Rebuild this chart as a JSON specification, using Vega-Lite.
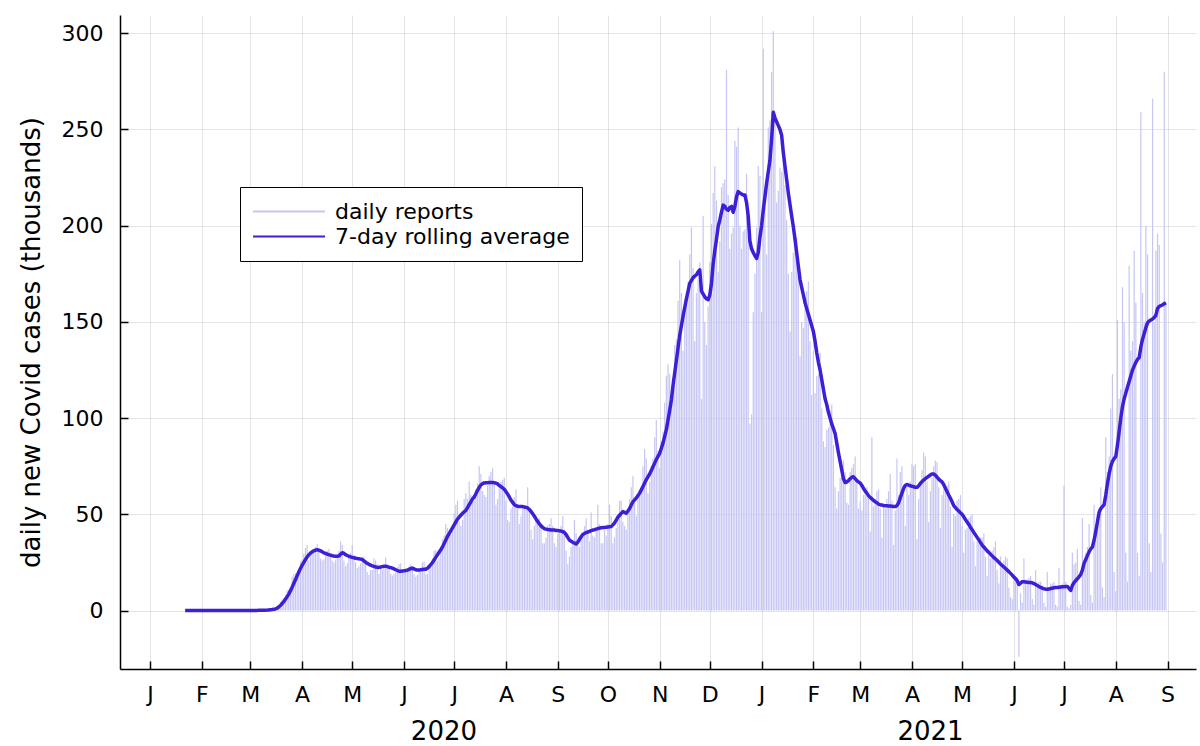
{
  "$schema": "https://vega.github.io/schema/vega-lite/v6.json",
  "width": 1076,
  "height": 654,
  "autosize": {"type": "none"},
  "padding": {"left": 120, "top": 15, "right": 4, "bottom": 77},
  "background": "white",
  "config": {
    "font": "DejaVu Sans",
    "view": {"stroke": null},
    "axis": {
      "labelFont": "DejaVu Sans",
      "labelFontSize": 22,
      "labelColor": "black",
      "titleFont": "DejaVu Sans",
      "titleFontSize": 26,
      "titleFontWeight": "normal",
      "titleColor": "black",
      "domainColor": "black",
      "domainWidth": 1.5,
      "tickColor": "black",
      "tickWidth": 1.5,
      "tickSize": -8,
      "gridColor": "#000000",
      "gridOpacity": 0.1,
      "gridWidth": 1
    },
    "legend": {
      "labelFont": "DejaVu Sans",
      "labelFontSize": 22,
      "labelColor": "black",
      "labelLimit": 500
    }
  },
  "data": {
    "values": [
      {"d":"2020-01-22","c":0,"a":0},{"d":"2020-01-23","c":0,"a":0},{"d":"2020-01-24","c":0,"a":0},{"d":"2020-01-25","c":0,"a":0},{"d":"2020-01-26","c":0,"a":0},
      {"d":"2020-01-27","c":0,"a":0},{"d":"2020-01-28","c":0,"a":0},{"d":"2020-01-29","c":0,"a":0},{"d":"2020-01-30","c":0,"a":0},{"d":"2020-01-31","c":0,"a":0},
      {"d":"2020-02-01","c":0,"a":0},{"d":"2020-02-02","c":0,"a":0},{"d":"2020-02-03","c":0,"a":0},{"d":"2020-02-04","c":0,"a":0},{"d":"2020-02-05","c":0,"a":0},
      {"d":"2020-02-06","c":0,"a":0},{"d":"2020-02-07","c":0,"a":0},{"d":"2020-02-08","c":0,"a":0},{"d":"2020-02-09","c":0,"a":0},{"d":"2020-02-10","c":0,"a":0},
      {"d":"2020-02-11","c":0,"a":0},{"d":"2020-02-12","c":0,"a":0},{"d":"2020-02-13","c":0,"a":0},{"d":"2020-02-14","c":0,"a":0},{"d":"2020-02-15","c":0,"a":0},
      {"d":"2020-02-16","c":0,"a":0},{"d":"2020-02-17","c":0,"a":0},{"d":"2020-02-18","c":0,"a":0},{"d":"2020-02-19","c":0,"a":0},{"d":"2020-02-20","c":0,"a":0},
      {"d":"2020-02-21","c":0,"a":0},{"d":"2020-02-22","c":0,"a":0},{"d":"2020-02-23","c":0,"a":0},{"d":"2020-02-24","c":0,"a":0},{"d":"2020-02-25","c":0,"a":0},
      {"d":"2020-02-26","c":0,"a":0},{"d":"2020-02-27","c":0,"a":0},{"d":"2020-02-28","c":0,"a":0},{"d":"2020-02-29","c":0,"a":0},
      {"d":"2020-03-01","c":0.02,"a":0.01},{"d":"2020-03-02","c":0.02,"a":0.02},{"d":"2020-03-03","c":0.03,"a":0.03},{"d":"2020-03-04","c":0.05,"a":0.04},
      {"d":"2020-03-05","c":0.07,"a":0.05},{"d":"2020-03-06","c":0.1,"a":0.07},{"d":"2020-03-07","c":0.12,"a":0.09},{"d":"2020-03-08","c":0.12,"a":0.1},
      {"d":"2020-03-09","c":0.17,"a":0.12},{"d":"2020-03-10","c":0.27,"a":0.15},{"d":"2020-03-11","c":0.4,"a":0.2},{"d":"2020-03-12","c":0.5,"a":0.3},
      {"d":"2020-03-13","c":0.6,"a":0.4},{"d":"2020-03-14","c":0.7,"a":0.5},{"d":"2020-03-15","c":0.8,"a":0.65},{"d":"2020-03-16","c":1.3,"a":0.8},
      {"d":"2020-03-17","c":2,"a":1.2},{"d":"2020-03-18","c":2.9,"a":1.8},{"d":"2020-03-19","c":4.5,"a":2.6},{"d":"2020-03-20","c":5.8,"a":3.5},
      {"d":"2020-03-21","c":6.4,"a":4.6},{"d":"2020-03-22","c":7.8,"a":5.8},{"d":"2020-03-23","c":10.5,"a":7.1},{"d":"2020-03-24","c":10.8,"a":8.5},
      {"d":"2020-03-25","c":12.5,"a":10.2},{"d":"2020-03-26","c":17.5,"a":12},{"d":"2020-03-27","c":18.8,"a":14},{"d":"2020-03-28","c":19.5,"a":16},
      {"d":"2020-03-29","c":18.9,"a":18},{"d":"2020-03-30","c":21.2,"a":20},{"d":"2020-03-31","c":25.5,"a":21.8},
      {"d":"2020-04-01","c":26.5,"a":23.5},{"d":"2020-04-02","c":29.5,"a":25},{"d":"2020-04-03","c":32.5,"a":26.5},{"d":"2020-04-04","c":34,"a":27.8},
      {"d":"2020-04-05","c":26,"a":29},{"d":"2020-04-06","c":29,"a":29.8},{"d":"2020-04-07","c":31,"a":30.5},{"d":"2020-04-08","c":31.5,"a":31},
      {"d":"2020-04-09","c":33,"a":31.4},{"d":"2020-04-10","c":34.5,"a":31.6},{"d":"2020-04-11","c":30.5,"a":31.4},{"d":"2020-04-12","c":27,"a":31},
      {"d":"2020-04-13","c":26,"a":30.5},{"d":"2020-04-14","c":26.5,"a":30},{"d":"2020-04-15","c":29,"a":29.7},{"d":"2020-04-16","c":31,"a":29.3},
      {"d":"2020-04-17","c":32,"a":29},{"d":"2020-04-18","c":29,"a":28.8},{"d":"2020-04-19","c":26,"a":28.5},{"d":"2020-04-20","c":25,"a":28.3},
      {"d":"2020-04-21","c":26.5,"a":28.2},{"d":"2020-04-22","c":28.5,"a":28.2},{"d":"2020-04-23","c":31,"a":28.3},{"d":"2020-04-24","c":36,"a":29.2},
      {"d":"2020-04-25","c":34,"a":30},{"d":"2020-04-26","c":26,"a":29.8},{"d":"2020-04-27","c":23,"a":29},{"d":"2020-04-28","c":24.5,"a":28.6},
      {"d":"2020-04-29","c":28,"a":28.2},{"d":"2020-04-30","c":30,"a":27.9},
      {"d":"2020-05-01","c":34,"a":27.6},{"d":"2020-05-02","c":29,"a":27.4},{"d":"2020-05-03","c":25,"a":27.2},{"d":"2020-05-04","c":22,"a":27},
      {"d":"2020-05-05","c":23,"a":26.9},{"d":"2020-05-06","c":24.5,"a":26.7},{"d":"2020-05-07","c":28,"a":26.5},{"d":"2020-05-08","c":28,"a":25.8},
      {"d":"2020-05-09","c":26,"a":25.1},{"d":"2020-05-10","c":20,"a":24.5},{"d":"2020-05-11","c":18.5,"a":24},{"d":"2020-05-12","c":21,"a":23.6},
      {"d":"2020-05-13","c":21,"a":23.2},{"d":"2020-05-14","c":27,"a":22.9},{"d":"2020-05-15","c":26,"a":22.6},{"d":"2020-05-16","c":24,"a":22.5},
      {"d":"2020-05-17","c":19,"a":22.4},{"d":"2020-05-18","c":22,"a":22.6},{"d":"2020-05-19","c":21,"a":22.8},{"d":"2020-05-20","c":22,"a":23},
      {"d":"2020-05-21","c":27.5,"a":23},{"d":"2020-05-22","c":24,"a":22.8},{"d":"2020-05-23","c":21.5,"a":22.5},{"d":"2020-05-24","c":19,"a":22.3},
      {"d":"2020-05-25","c":18,"a":22},{"d":"2020-05-26","c":19,"a":21.6},{"d":"2020-05-27","c":20,"a":21.2},{"d":"2020-05-28","c":22.5,"a":20.8},
      {"d":"2020-05-29","c":24,"a":20.4},{"d":"2020-05-30","c":24.5,"a":20.4},{"d":"2020-05-31","c":20,"a":20.5},
      {"d":"2020-06-01","c":20,"a":20.6},{"d":"2020-06-02","c":20,"a":20.8},{"d":"2020-06-03","c":21,"a":21},{"d":"2020-06-04","c":23,"a":21.4},
      {"d":"2020-06-05","c":24,"a":21.8},{"d":"2020-06-06","c":23,"a":22},{"d":"2020-06-07","c":19,"a":21.6},{"d":"2020-06-08","c":17.5,"a":21.2},
      {"d":"2020-06-09","c":18.5,"a":21},{"d":"2020-06-10","c":21,"a":21},{"d":"2020-06-11","c":21.5,"a":21.2},{"d":"2020-06-12","c":25,"a":21.3},
      {"d":"2020-06-13","c":25.5,"a":21.4},{"d":"2020-06-14","c":19,"a":21.5},{"d":"2020-06-15","c":19,"a":22},{"d":"2020-06-16","c":23,"a":22.8},
      {"d":"2020-06-17","c":24,"a":23.8},{"d":"2020-06-18","c":27,"a":25},{"d":"2020-06-19","c":31,"a":26.3},{"d":"2020-06-20","c":31.5,"a":27.6},
      {"d":"2020-06-21","c":26,"a":29},{"d":"2020-06-22","c":27,"a":30.3},{"d":"2020-06-23","c":33,"a":31.6},{"d":"2020-06-24","c":37,"a":33},
      {"d":"2020-06-25","c":39,"a":34.8},{"d":"2020-06-26","c":45,"a":36.6},{"d":"2020-06-27","c":43,"a":38.5},{"d":"2020-06-28","c":40,"a":40},
      {"d":"2020-06-29","c":39.5,"a":41.5},{"d":"2020-06-30","c":44,"a":43},
      {"d":"2020-07-01","c":50.5,"a":44.5},{"d":"2020-07-02","c":55,"a":46},{"d":"2020-07-03","c":57,"a":47.5},{"d":"2020-07-04","c":46,"a":48.5},
      {"d":"2020-07-05","c":44,"a":49.5},{"d":"2020-07-06","c":47,"a":50.5},{"d":"2020-07-07","c":58,"a":51.3},{"d":"2020-07-08","c":61,"a":52},
      {"d":"2020-07-09","c":58,"a":53.5},{"d":"2020-07-10","c":67,"a":55},{"d":"2020-07-11","c":60,"a":56.5},{"d":"2020-07-12","c":59,"a":58},
      {"d":"2020-07-13","c":57,"a":59},{"d":"2020-07-14","c":63,"a":60.7},{"d":"2020-07-15","c":66,"a":62.5},{"d":"2020-07-16","c":75,"a":64},
      {"d":"2020-07-17","c":71,"a":65.3},{"d":"2020-07-18","c":62,"a":65.9},{"d":"2020-07-19","c":60,"a":66.3},{"d":"2020-07-20","c":59,"a":66.4},
      {"d":"2020-07-21","c":65,"a":66.4},{"d":"2020-07-22","c":70,"a":66.5},{"d":"2020-07-23","c":72,"a":66.5},{"d":"2020-07-24","c":74,"a":66.5},
      {"d":"2020-07-25","c":66,"a":66.4},{"d":"2020-07-26","c":55,"a":66.2},{"d":"2020-07-27","c":58,"a":65.8},{"d":"2020-07-28","c":64,"a":65},
      {"d":"2020-07-29","c":67,"a":64.4},{"d":"2020-07-30","c":68,"a":63.7},{"d":"2020-07-31","c":69,"a":63},
      {"d":"2020-08-01","c":57,"a":61.8},{"d":"2020-08-02","c":47,"a":60.5},{"d":"2020-08-03","c":46,"a":59},{"d":"2020-08-04","c":53,"a":57.4},
      {"d":"2020-08-05","c":54,"a":56.2},{"d":"2020-08-06","c":59,"a":55},{"d":"2020-08-07","c":63,"a":54.5},{"d":"2020-08-08","c":55,"a":54.2},
      {"d":"2020-08-09","c":45,"a":54.1},{"d":"2020-08-10","c":49,"a":54},{"d":"2020-08-11","c":53,"a":54},{"d":"2020-08-12","c":54,"a":53.8},
      {"d":"2020-08-13","c":54,"a":53.6},{"d":"2020-08-14","c":64,"a":53.3},{"d":"2020-08-15","c":52,"a":52.5},{"d":"2020-08-16","c":42,"a":51.5},
      {"d":"2020-08-17","c":37,"a":50.3},{"d":"2020-08-18","c":44,"a":49},{"d":"2020-08-19","c":47,"a":47.6},{"d":"2020-08-20","c":45,"a":46.3},
      {"d":"2020-08-21","c":48,"a":45},{"d":"2020-08-22","c":45,"a":44},{"d":"2020-08-23","c":35,"a":43.2},{"d":"2020-08-24","c":35,"a":42.5},
      {"d":"2020-08-25","c":38,"a":42.3},{"d":"2020-08-26","c":44,"a":42.1},{"d":"2020-08-27","c":45,"a":42},{"d":"2020-08-28","c":48,"a":41.9},
      {"d":"2020-08-29","c":44,"a":41.8},{"d":"2020-08-30","c":35,"a":41.8},{"d":"2020-08-31","c":33,"a":41.6},
      {"d":"2020-09-01","c":40,"a":41.6},{"d":"2020-09-02","c":41,"a":41.4},{"d":"2020-09-03","c":44,"a":41.3},{"d":"2020-09-04","c":49,"a":41},
      {"d":"2020-09-05","c":42,"a":40.5},{"d":"2020-09-06","c":31,"a":39.5},{"d":"2020-09-07","c":24,"a":38},{"d":"2020-09-08","c":28,"a":36.6},
      {"d":"2020-09-09","c":33,"a":36},{"d":"2020-09-10","c":35,"a":35.5},{"d":"2020-09-11","c":47,"a":35},{"d":"2020-09-12","c":40,"a":34.6},
      {"d":"2020-09-13","c":34,"a":35.5},{"d":"2020-09-14","c":33,"a":37},{"d":"2020-09-15","c":39,"a":38.3},{"d":"2020-09-16","c":40,"a":39.5},
      {"d":"2020-09-17","c":44,"a":40},{"d":"2020-09-18","c":48,"a":40.5},{"d":"2020-09-19","c":42,"a":40.8},{"d":"2020-09-20","c":36,"a":41.1},
      {"d":"2020-09-21","c":51,"a":41.5},{"d":"2020-09-22","c":39,"a":41.8},{"d":"2020-09-23","c":38,"a":42},{"d":"2020-09-24","c":43,"a":42.3},
      {"d":"2020-09-25","c":55,"a":42.6},{"d":"2020-09-26","c":45,"a":42.8},{"d":"2020-09-27","c":35,"a":43},{"d":"2020-09-28","c":35,"a":43.1},
      {"d":"2020-09-29","c":42,"a":43.2},{"d":"2020-09-30","c":39,"a":43.3},
      {"d":"2020-10-01","c":45,"a":43.4},{"d":"2020-10-02","c":55,"a":43.5},{"d":"2020-10-03","c":49,"a":43.6},{"d":"2020-10-04","c":35,"a":44.5},
      {"d":"2020-10-05","c":38,"a":45.5},{"d":"2020-10-06","c":43,"a":47},{"d":"2020-10-07","c":50,"a":48.5},{"d":"2020-10-08","c":57,"a":49.5},
      {"d":"2020-10-09","c":57,"a":50.5},{"d":"2020-10-10","c":46,"a":51.4},{"d":"2020-10-11","c":44,"a":51},{"d":"2020-10-12","c":42,"a":50.5},
      {"d":"2020-10-13","c":51,"a":51.7},{"d":"2020-10-14","c":58,"a":53},{"d":"2020-10-15","c":64,"a":54.8},{"d":"2020-10-16","c":70,"a":56.5},
      {"d":"2020-10-17","c":56,"a":57.5},{"d":"2020-10-18","c":49,"a":58.5},{"d":"2020-10-19","c":59,"a":59.7},{"d":"2020-10-20","c":61,"a":61},
      {"d":"2020-10-21","c":63,"a":62.7},{"d":"2020-10-22","c":75,"a":64.5},{"d":"2020-10-23","c":84,"a":66.3},{"d":"2020-10-24","c":79,"a":68},
      {"d":"2020-10-25","c":61,"a":69.5},{"d":"2020-10-26","c":67,"a":71},{"d":"2020-10-27","c":75,"a":72.8},{"d":"2020-10-28","c":79,"a":74.7},
      {"d":"2020-10-29","c":90,"a":76.6},{"d":"2020-10-30","c":99,"a":78.5},{"d":"2020-10-31","c":83,"a":80.1},
      {"d":"2020-11-01","c":74,"a":81.7},{"d":"2020-11-02","c":88,"a":84.3},{"d":"2020-11-03","c":93,"a":87},{"d":"2020-11-04","c":108,"a":90.5},
      {"d":"2020-11-05","c":122,"a":94},{"d":"2020-11-06","c":128,"a":99},{"d":"2020-11-07","c":123,"a":104},{"d":"2020-11-08","c":105,"a":109.4},
      {"d":"2020-11-09","c":121,"a":117},{"d":"2020-11-10","c":138,"a":123.5},{"d":"2020-11-11","c":141,"a":130},{"d":"2020-11-12","c":161,"a":136.5},
      {"d":"2020-11-13","c":182,"a":143},{"d":"2020-11-14","c":165,"a":148},{"d":"2020-11-15","c":135,"a":153},{"d":"2020-11-16","c":158,"a":157.5},
      {"d":"2020-11-17","c":160,"a":162},{"d":"2020-11-18","c":171,"a":166},{"d":"2020-11-19","c":185,"a":170},{"d":"2020-11-20","c":199,"a":171.5},
      {"d":"2020-11-21","c":178,"a":173},{"d":"2020-11-22","c":140,"a":173.8},{"d":"2020-11-23","c":165,"a":174.5},{"d":"2020-11-24","c":172,"a":176},
      {"d":"2020-11-25","c":181,"a":177},{"d":"2020-11-26","c":110,"a":166},{"d":"2020-11-27","c":205,"a":164.5},{"d":"2020-11-28","c":150,"a":163},
      {"d":"2020-11-29","c":138,"a":162},{"d":"2020-11-30","c":158,"a":161.5},
      {"d":"2020-12-01","c":181,"a":164},{"d":"2020-12-02","c":201,"a":170},{"d":"2020-12-03","c":217,"a":180},{"d":"2020-12-04","c":231,"a":187},
      {"d":"2020-12-05","c":213,"a":193},{"d":"2020-12-06","c":176,"a":199.5},{"d":"2020-12-07","c":192,"a":203},{"d":"2020-12-08","c":220,"a":207},
      {"d":"2020-12-09","c":222,"a":210.7},{"d":"2020-12-10","c":224,"a":210},{"d":"2020-12-11","c":281,"a":208.5},{"d":"2020-12-12","c":216,"a":208},
      {"d":"2020-12-13","c":188,"a":209.5},{"d":"2020-12-14","c":196,"a":210},{"d":"2020-12-15","c":199,"a":207},{"d":"2020-12-16","c":244,"a":210},
      {"d":"2020-12-17","c":241,"a":215},{"d":"2020-12-18","c":251,"a":217.7},{"d":"2020-12-19","c":200,"a":217},{"d":"2020-12-20","c":188,"a":216.5},
      {"d":"2020-12-21","c":197,"a":216},{"d":"2020-12-22","c":198,"a":216},{"d":"2020-12-23","c":227,"a":212},{"d":"2020-12-24","c":195,"a":205},
      {"d":"2020-12-25","c":97,"a":192},{"d":"2020-12-26","c":102,"a":188},{"d":"2020-12-27","c":155,"a":186},{"d":"2020-12-28","c":175,"a":184.5},
      {"d":"2020-12-29","c":199,"a":183},{"d":"2020-12-30","c":231,"a":186},{"d":"2020-12-31","c":226,"a":194},
      {"d":"2021-01-01","c":155,"a":200},{"d":"2021-01-02","c":292,"a":208},{"d":"2021-01-03","c":210,"a":215},{"d":"2021-01-04","c":185,"a":222},
      {"d":"2021-01-05","c":251,"a":228},{"d":"2021-01-06","c":255,"a":234},{"d":"2021-01-07","c":280,"a":245},{"d":"2021-01-08","c":301,"a":259},
      {"d":"2021-01-09","c":258,"a":256},{"d":"2021-01-10","c":212,"a":254},{"d":"2021-01-11","c":218,"a":252},{"d":"2021-01-12","c":230,"a":250},
      {"d":"2021-01-13","c":228,"a":247},{"d":"2021-01-14","c":235,"a":238},{"d":"2021-01-15","c":221,"a":231},{"d":"2021-01-16","c":203,"a":224},
      {"d":"2021-01-17","c":175,"a":217},{"d":"2021-01-18","c":145,"a":211},{"d":"2021-01-19","c":176,"a":205},{"d":"2021-01-20","c":186,"a":199.5},
      {"d":"2021-01-21","c":192,"a":193},{"d":"2021-01-22","c":194,"a":186},{"d":"2021-01-23","c":174,"a":179},{"d":"2021-01-24","c":132,"a":172},
      {"d":"2021-01-25","c":150,"a":168},{"d":"2021-01-26","c":147,"a":164},{"d":"2021-01-27","c":157,"a":160},{"d":"2021-01-28","c":166,"a":157},
      {"d":"2021-01-29","c":171,"a":154},{"d":"2021-01-30","c":140,"a":151},{"d":"2021-01-31","c":112,"a":148},
      {"d":"2021-02-01","c":135,"a":145},{"d":"2021-02-02","c":113,"a":140},{"d":"2021-02-03","c":122,"a":134},{"d":"2021-02-04","c":123,"a":129},
      {"d":"2021-02-05","c":134,"a":125},{"d":"2021-02-06","c":105,"a":120},{"d":"2021-02-07","c":88,"a":115},{"d":"2021-02-08","c":85,"a":110},
      {"d":"2021-02-09","c":94,"a":107},{"d":"2021-02-10","c":95,"a":103},{"d":"2021-02-11","c":104,"a":100},{"d":"2021-02-12","c":107,"a":97},
      {"d":"2021-02-13","c":86,"a":94.5},{"d":"2021-02-14","c":64,"a":92},{"d":"2021-02-15","c":53,"a":87},{"d":"2021-02-16","c":62,"a":82},
      {"d":"2021-02-17","c":69,"a":77.5},{"d":"2021-02-18","c":71,"a":73},{"d":"2021-02-19","c":78,"a":68.5},{"d":"2021-02-20","c":72,"a":66.5},
      {"d":"2021-02-21","c":56,"a":66.8},{"d":"2021-02-22","c":55,"a":67.5},{"d":"2021-02-23","c":72,"a":68.5},{"d":"2021-02-24","c":74,"a":69.3},
      {"d":"2021-02-25","c":76,"a":69.5},{"d":"2021-02-26","c":80,"a":68.5},{"d":"2021-02-27","c":67,"a":67.5},{"d":"2021-02-28","c":53,"a":66.8},
      {"d":"2021-03-01","c":57,"a":66.3},{"d":"2021-03-02","c":52,"a":65},{"d":"2021-03-03","c":60,"a":63.5},{"d":"2021-03-04","c":62,"a":62},
      {"d":"2021-03-05","c":64,"a":61},{"d":"2021-03-06","c":60,"a":59.7},{"d":"2021-03-07","c":41,"a":58.8},{"d":"2021-03-08","c":90,"a":58},
      {"d":"2021-03-09","c":54,"a":57.2},{"d":"2021-03-10","c":58,"a":56.5},{"d":"2021-03-11","c":62,"a":56},{"d":"2021-03-12","c":63,"a":55.3},
      {"d":"2021-03-13","c":53,"a":55},{"d":"2021-03-14","c":38,"a":54.8},{"d":"2021-03-15","c":54,"a":54.6},{"d":"2021-03-16","c":53,"a":54.5},
      {"d":"2021-03-17","c":58,"a":54.4},{"d":"2021-03-18","c":62,"a":54.3},{"d":"2021-03-19","c":71,"a":54.3},{"d":"2021-03-20","c":57,"a":54.2},
      {"d":"2021-03-21","c":34,"a":54.1},{"d":"2021-03-22","c":52,"a":54},{"d":"2021-03-23","c":79,"a":54.5},{"d":"2021-03-24","c":60,"a":56},
      {"d":"2021-03-25","c":72,"a":58.5},{"d":"2021-03-26","c":75,"a":61},{"d":"2021-03-27","c":63,"a":63.5},{"d":"2021-03-28","c":44,"a":65},
      {"d":"2021-03-29","c":64,"a":65.5},{"d":"2021-03-30","c":60,"a":65.2},{"d":"2021-03-31","c":67,"a":64.8},
      {"d":"2021-04-01","c":76,"a":64.6},{"d":"2021-04-02","c":75,"a":64.3},{"d":"2021-04-03","c":76,"a":64.1},{"d":"2021-04-04","c":37,"a":64},
      {"d":"2021-04-05","c":58,"a":64.8},{"d":"2021-04-06","c":66,"a":66},{"d":"2021-04-07","c":73,"a":67},{"d":"2021-04-08","c":82,"a":67.8},
      {"d":"2021-04-09","c":80,"a":68.5},{"d":"2021-04-10","c":67,"a":69.2},{"d":"2021-04-11","c":46,"a":69.8},{"d":"2021-04-12","c":62,"a":70.4},
      {"d":"2021-04-13","c":69,"a":70.9},{"d":"2021-04-14","c":75,"a":71},{"d":"2021-04-15","c":78,"a":70.3},{"d":"2021-04-16","c":77,"a":69.3},
      {"d":"2021-04-17","c":64,"a":68.3},{"d":"2021-04-18","c":43,"a":67.5},{"d":"2021-04-19","c":60,"a":66.8},{"d":"2021-04-20","c":63,"a":65.5},
      {"d":"2021-04-21","c":63,"a":63.5},{"d":"2021-04-22","c":65,"a":61.8},{"d":"2021-04-23","c":67,"a":60},{"d":"2021-04-24","c":54,"a":58.3},
      {"d":"2021-04-25","c":33,"a":56.5},{"d":"2021-04-26","c":50,"a":54.5},{"d":"2021-04-27","c":49,"a":53.5},{"d":"2021-04-28","c":57,"a":52.5},
      {"d":"2021-04-29","c":58,"a":51.7},{"d":"2021-04-30","c":60,"a":50.8},
      {"d":"2021-05-01","c":44,"a":50},{"d":"2021-05-02","c":30,"a":48.7},{"d":"2021-05-03","c":42,"a":47.3},{"d":"2021-05-04","c":43,"a":46},
      {"d":"2021-05-05","c":48,"a":44.7},{"d":"2021-05-06","c":49,"a":43.3},{"d":"2021-05-07","c":50,"a":42},{"d":"2021-05-08","c":36,"a":40.6},
      {"d":"2021-05-09","c":23,"a":39.3},{"d":"2021-05-10","c":36,"a":38},{"d":"2021-05-11","c":35,"a":36.7},{"d":"2021-05-12","c":38,"a":35.3},
      {"d":"2021-05-13","c":38,"a":34},{"d":"2021-05-14","c":40,"a":33},{"d":"2021-05-15","c":28,"a":32},{"d":"2021-05-16","c":18,"a":31},
      {"d":"2021-05-17","c":30,"a":30.2},{"d":"2021-05-18","c":27,"a":29.3},{"d":"2021-05-19","c":31,"a":28.4},{"d":"2021-05-20","c":33,"a":27.5},
      {"d":"2021-05-21","c":36,"a":26.8},{"d":"2021-05-22","c":21,"a":26},{"d":"2021-05-23","c":14,"a":25.1},{"d":"2021-05-24","c":28,"a":24.2},
      {"d":"2021-05-25","c":23,"a":23.4},{"d":"2021-05-26","c":26,"a":22.6},{"d":"2021-05-27","c":28,"a":21.8},{"d":"2021-05-28","c":27,"a":21},
      {"d":"2021-05-29","c":12,"a":20.2},{"d":"2021-05-30","c":7,"a":19.3},{"d":"2021-05-31","c":6,"a":18.4},
      {"d":"2021-06-01","c":19,"a":17.4},{"d":"2021-06-02","c":18,"a":16.5},{"d":"2021-06-03","c":17,"a":15.5},{"d":"2021-06-04","c":-24,"a":13.5},
      {"d":"2021-06-05","c":9,"a":14.2},{"d":"2021-06-06","c":4,"a":15},{"d":"2021-06-07","c":27,"a":14.9},{"d":"2021-06-08","c":16,"a":14.8},
      {"d":"2021-06-09","c":16,"a":14.7},{"d":"2021-06-10","c":17,"a":14.6},{"d":"2021-06-11","c":18,"a":14.5},{"d":"2021-06-12","c":6,"a":14.4},
      {"d":"2021-06-13","c":3,"a":14},{"d":"2021-06-14","c":21,"a":13.5},{"d":"2021-06-15","c":14,"a":13},{"d":"2021-06-16","c":15,"a":12.5},
      {"d":"2021-06-17","c":15,"a":12},{"d":"2021-06-18","c":13,"a":11.6},{"d":"2021-06-19","c":4,"a":11.3},{"d":"2021-06-20","c":2,"a":11.1},
      {"d":"2021-06-21","c":20,"a":11},{"d":"2021-06-22","c":12,"a":11.2},{"d":"2021-06-23","c":14,"a":11.4},{"d":"2021-06-24","c":14,"a":11.6},
      {"d":"2021-06-25","c":15,"a":11.8},{"d":"2021-06-26","c":3,"a":11.9},{"d":"2021-06-27","c":2,"a":12},{"d":"2021-06-28","c":22,"a":12.1},
      {"d":"2021-06-29","c":13,"a":12.2},{"d":"2021-06-30","c":14,"a":12.3},
      {"d":"2021-07-01","c":65,"a":12.4},{"d":"2021-07-02","c":15,"a":12.5},{"d":"2021-07-03","c":2,"a":12.5},{"d":"2021-07-04","c":1,"a":11.5},
      {"d":"2021-07-05","c":3,"a":10.5},{"d":"2021-07-06","c":30,"a":13},{"d":"2021-07-07","c":24,"a":14.5},{"d":"2021-07-08","c":25,"a":15.5},
      {"d":"2021-07-09","c":32,"a":16.5},{"d":"2021-07-10","c":5,"a":17.5},{"d":"2021-07-11","c":3,"a":18.7},{"d":"2021-07-12","c":48,"a":21},
      {"d":"2021-07-13","c":26,"a":24.5},{"d":"2021-07-14","c":30,"a":26.5},{"d":"2021-07-15","c":33,"a":28.5},{"d":"2021-07-16","c":45,"a":30.5},
      {"d":"2021-07-17","c":8,"a":32},{"d":"2021-07-18","c":4,"a":33},{"d":"2021-07-19","c":55,"a":36.5},{"d":"2021-07-20","c":44,"a":41},
      {"d":"2021-07-21","c":45,"a":46},{"d":"2021-07-22","c":50,"a":51},{"d":"2021-07-23","c":64,"a":53},{"d":"2021-07-24","c":12,"a":54},
      {"d":"2021-07-25","c":7,"a":55},{"d":"2021-07-26","c":90,"a":60},{"d":"2021-07-27","c":72,"a":66},{"d":"2021-07-28","c":80,"a":71},
      {"d":"2021-07-29","c":105,"a":75},{"d":"2021-07-30","c":123,"a":77.5},{"d":"2021-07-31","c":20,"a":79},
      {"d":"2021-08-01","c":10,"a":80},{"d":"2021-08-02","c":151,"a":86},{"d":"2021-08-03","c":110,"a":93},{"d":"2021-08-04","c":115,"a":100},
      {"d":"2021-08-05","c":168,"a":106},{"d":"2021-08-06","c":150,"a":110},{"d":"2021-08-07","c":30,"a":113},{"d":"2021-08-08","c":15,"a":116},
      {"d":"2021-08-09","c":179,"a":119},{"d":"2021-08-10","c":135,"a":122},{"d":"2021-08-11","c":140,"a":125},{"d":"2021-08-12","c":187,"a":127},
      {"d":"2021-08-13","c":160,"a":129},{"d":"2021-08-14","c":30,"a":130.5},{"d":"2021-08-15","c":18,"a":131.5},{"d":"2021-08-16","c":259,"a":137},
      {"d":"2021-08-17","c":165,"a":141},{"d":"2021-08-18","c":150,"a":144},{"d":"2021-08-19","c":200,"a":147},{"d":"2021-08-20","c":185,"a":149.5},
      {"d":"2021-08-21","c":35,"a":150.5},{"d":"2021-08-22","c":20,"a":151},{"d":"2021-08-23","c":266,"a":151.5},{"d":"2021-08-24","c":150,"a":152.3},
      {"d":"2021-08-25","c":187,"a":153.5},{"d":"2021-08-26","c":196,"a":157},{"d":"2021-08-27","c":190,"a":158},{"d":"2021-08-28","c":40,"a":158.5},
      {"d":"2021-08-29","c":25,"a":158.8},{"d":"2021-08-30","c":280,"a":159.5},{"d":"2021-08-31","c":160,"a":160}
    ]
  },
  "layer": [
    {
      "mark": {"type": "rule", "strokeWidth": 1.2},
      "encoding": {
        "x": {
          "field": "d",
          "type": "temporal",
          "scale": {
            "type": "utc",
            "domain": [
              {"year": 2019, "month": 12, "date": 14, "utc": true},
              {"year": 2021, "month": 9, "date": 18, "utc": true}
            ]
          },
          "axis": {
            "title": null,
            "tickCount": {"interval": "month", "step": 1},
            "labelExpr": "substring(utcFormat(datum.value, '%b'), 0, 1)",
            "labelPadding": 23,
            "labelFlush": false,
            "labelOverlap": false,
            "grid": true
          }
        },
        "y": {
          "field": "c",
          "type": "quantitative",
          "title": "daily new Covid cases (thousands)",
          "scale": {"domain": [-30.4, 309.5], "nice": false, "zero": false},
          "axis": {
            "values": [0, 50, 100, 150, 200, 250, 300],
            "labelPadding": 25,
            "titlePadding": 17,
            "grid": true
          }
        },
        "y2": {"datum": 0},
        "color": {
          "datum": "daily reports",
          "type": "nominal",
          "scale": {
            "domain": ["daily reports", "7-day rolling average"],
            "range": ["#c6c6f4", "#3c1fd6"]
          },
          "legend": {
            "orient": "none",
            "legendX": 120,
            "legendY": 172,
            "title": null,
            "symbolType": "stroke",
            "symbolSize": 5184,
            "symbolStrokeWidth": 2,
            "symbolOpacity": 1,
            "labelOffset": 9,
            "labelExpr": "datum.label + '\u00a0\u00a0'",
            "clipHeight": 25,
            "rowPadding": 0,
            "padding": 12,
            "strokeColor": "black",
            "fillColor": "white"
          }
        }
      }
    },
    {
      "mark": {"type": "line", "strokeWidth": 3.5, "strokeJoin": "round"},
      "encoding": {
        "x": {
          "field": "d",
          "type": "temporal",
          "scale": {
            "type": "utc",
            "domain": [
              {"year": 2019, "month": 12, "date": 14, "utc": true},
              {"year": 2021, "month": 9, "date": 18, "utc": true}
            ]
          },
          "axis": {
            "orient": "bottom",
            "title": null,
            "values": [
              {"year": 2020, "month": 6, "date": 24, "hours": 14, "utc": true},
              {"year": 2021, "month": 4, "date": 11, "hours": 19, "utc": true}
            ],
            "labelExpr": "utcFormat(datum.value, '%Y')",
            "labelFontSize": 26,
            "labelPadding": 49,
            "ticks": false,
            "domain": false,
            "grid": false,
            "labelFlush": false,
            "labelOverlap": false
          }
        },
        "y": {
          "field": "a",
          "type": "quantitative",
          "title": "daily new Covid cases (thousands)",
          "scale": {"domain": [-30.4, 309.5], "nice": false, "zero": false}
        },
        "color": {"datum": "7-day rolling average", "type": "nominal"}
      }
    }
  ],
  "resolve": {"axis": {"x": "independent"}}
}
